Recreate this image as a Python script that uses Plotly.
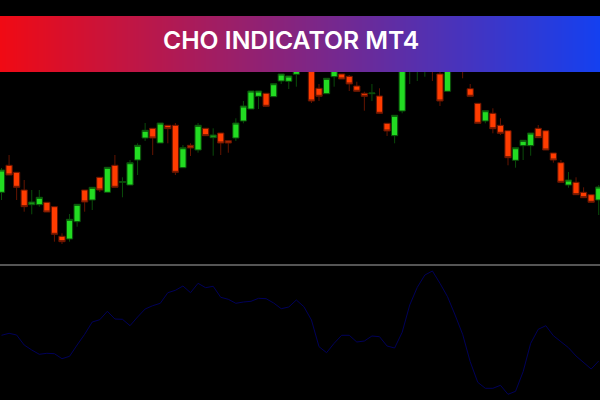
import plotly.graph_objects as go

# chart data, price in points above the chart floor
bars = list(range(80))

opens = [67.7, 94.7, 87.7, 70, 55.3, 55.3, 57.7, 53.3, 23.7, 21,
         38.3, 70, 60, 82.7, 67.7, 94.7, 77.7, 75, 100, 122,
         131.7, 117, 134.7, 134.7, 92.3, 114.7, 110, 131.7, 122.3, 127,
         119.3, 122, 139, 151, 163.7, 166.7, 163.3, 179, 178.7, 185.7,
         196, 192, 171.7, 166.3, 183.3, 186, 183.7, 174, 166.7, 166.3,
         164, 136.7, 124.3, 149, 190, 192, 192, 198, 186, 168.7,
         194, 198, 171.3, 156.7, 139, 146.7, 134.7, 129.3, 99.7, 114.3,
         114.3, 131.7, 129.3, 107, 97.3, 75, 77.7, 67.7, 65.3, 60]
highs = [92, 105, 87.7, 80, 70, 70, 57.7, 53.3, 26.7, 46,
         55.7, 70, 72.7, 82.7, 92.7, 105, 82.7, 100, 116.7, 137,
         131.7, 137, 134.7, 137, 115, 116.7, 137, 131.7, 131.7, 127,
         119.3, 141.7, 159, 169, 169, 166.7, 177, 186, 184, 192,
         201, 195, 176, 182, 192, 186, 185, 178.3, 168.3, 176,
         171.7, 136.7, 144.7, 197, 200, 200, 199, 200, 190, 194,
         200, 200, 176, 156.7, 149.3, 151.7, 141.7, 129.3, 112.3, 119.7,
         127, 135, 129.3, 107, 100, 88, 82.7, 72.7, 66, 75]
lows = [60, 85, 60, 48.3, 45.7, 53.3, 48, 18.3, 16, 18.3,
        33.3, 48.3, 50, 68, 67.7, 72.7, 62.7, 75, 85, 119,
        105, 117, 116.7, 85, 92.3, 104, 107.3, 124.3, 104.3, 105,
        107.3, 119, 136.7, 151, 151, 153.7, 163.3, 176, 171, 173.3,
        190, 157, 159, 166.3, 173.3, 181, 169, 168.7, 149.3, 159,
        146.7, 124, 116.7, 146.7, 176, 179, 183.3, 179, 154, 168.7,
        190, 181.7, 163.7, 136.7, 136.7, 126.7, 125, 94.7, 92.3, 100,
        104.3, 122.3, 110, 97.3, 77.7, 72.3, 65.3, 62.3, 57, 45]
closes = [90, 85, 72.7, 53.3, 58, 62.7, 48, 25.7, 18.3, 40.7,
          55.7, 58, 72.7, 70, 92.7, 72.7, 78.3, 97.3, 114.7, 129.7,
          122, 137, 131.3, 87.7, 112.3, 112, 134.7, 124.3, 125, 117,
          117, 137, 154, 169, 169, 153.7, 176.3, 186, 184, 190,
          200, 159, 163.7, 181.7, 190, 181, 176, 168.7, 163.7, 167,
          146.7, 129, 144.7, 195, 198, 198, 197, 192, 159, 192,
          198, 192, 163.7, 136.7, 149.3, 131.3, 126.7, 102.3, 112.3, 119.7,
          127, 122.3, 110, 100, 77.7, 80, 65.3, 62.3, 57.7, 73]

cho = [64.7, 66.7, 65, 55, 50, 45.7, 46.7, 46.3, 41.3, 43.7,
       55, 65.7, 78, 80.3, 88.7, 81, 80.7, 74.3, 83, 91,
       94.3, 96.7, 107.3, 109.7, 114, 107.3, 116.7, 112.3, 113.7, 102.7,
       100.7, 96.7, 98, 98.7, 101.7, 101.3, 97, 91.3, 93, 100,
       93.3, 80, 53.3, 47.3, 56.7, 64.7, 64.7, 58, 59, 64,
       63.3, 54, 52, 67.7, 95, 112.7, 125, 129, 116.7, 103.3,
       85, 65.7, 38.3, 17.7, 11.7, 11.7, 14.7, 5.7, 8.7, 28.3,
       56.7, 70.7, 74.3, 64.3, 58.3, 52.3, 44, 37.7, 31, 39]

title = "CHO INDICATOR MT4"
banner_x = [0, 1]
banner_y = [0, 1]
banner_z = [[0, 1], [0, 1]]

fig = go.Figure()

# candles
fig.add_trace(go.Candlestick(
    x=bars, open=opens, high=highs, low=lows, close=closes,
    increasing=dict(line=dict(color="#0a4c0a", width=1), fillcolor="#22dc22"),
    decreasing=dict(line=dict(color="#641400", width=1), fillcolor="#ff3c00"),
    hoverinfo="skip", xaxis="x", yaxis="y",
))

# indicator window
fig.add_trace(go.Scatter(
    x=bars, y=cho, mode="lines", line=dict(color="#00005a", width=1),
    hoverinfo="skip", xaxis="x2", yaxis="y2",
))

# gradient banner
fig.add_trace(go.Heatmap(
    x=banner_x, y=banner_y, z=banner_z, zsmooth="best", showscale=False,
    colorscale=[[0, "#f00a14"], [1, "#1440f0"]],
    hoverinfo="skip", xaxis="x3", yaxis="y3",
))

fig.update_layout(
    width=600,
    height=400,
    margin=dict(l=0, r=0, t=0, b=0),
    paper_bgcolor="black",
    plot_bgcolor="black",
    showlegend=False,
    boxgap=0.18,
    boxgroupgap=0,
    xaxis=dict(visible=False, range=[-0.2, 79.17], domain=[0, 1], rangeslider=dict(visible=False)),
    yaxis=dict(visible=False, range=[-4, 188], domain=[0.34, 0.82]),
    xaxis2=dict(visible=False, range=[-0.2, 79.17], domain=[0, 1], anchor="y2"),
    yaxis2=dict(visible=False, range=[0, 134], domain=[0, 0.335], anchor="x2"),
    xaxis3=dict(visible=False, range=[0, 1], domain=[0, 1], anchor="y3"),
    yaxis3=dict(visible=False, range=[0, 1], domain=[0.82, 0.96], anchor="x3"),
    annotations=[dict(
        text=title, x=0.485, y=0.899, xref="paper", yref="paper",
        xanchor="center", yanchor="middle", showarrow=False,
        font=dict(family="Inter", size=24.7, color="white", weight=600),
    )],
    shapes=[dict(
        type="line", xref="paper", yref="paper", x0=0, x1=1, y0=0.3375, y1=0.3375,
        line=dict(color="#555555", width=2),
    )],
)

fig.write_html(
    "out.html",
    config=dict(displayModeBar=False),
    post_script="document.body.style.margin='0';document.body.style.background='black';",
)
